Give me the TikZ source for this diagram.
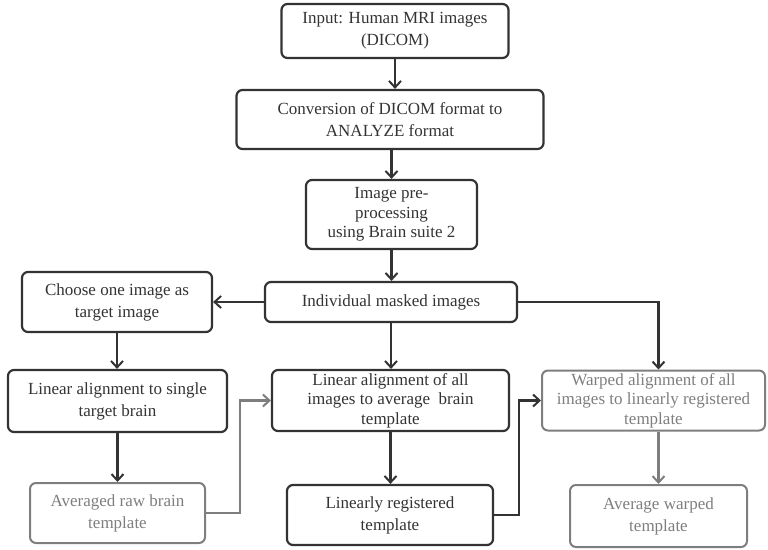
\documentclass[tikz,border=0pt]{standalone}
\usepackage{fontspec}
\setmainfont{Liberation Serif}
\usetikzlibrary{arrows.meta}
\definecolor{ink}{HTML}{333333}
\definecolor{pale}{HTML}{7E7E7E}
\begin{document}
\begin{tikzpicture}[x=1pt,y=-1pt,
  font=\fontsize{17}{22}\selectfont,
  box/.style={draw=ink, line width=2.2pt, rounded corners=6pt, text=ink,
    align=center, inner sep=0pt},
  palebox/.style={box, draw=pale, line width=2pt, text=pale},
  tight/.style={font=\fontsize{17}{19.5}\selectfont},
  link/.style={draw=ink, line width=2.2pt,
    -{Straight Barb[length=6.5pt,width=12pt,line width=2pt]}},
  palelink/.style={link, draw=pale}]
\useasboundingbox (0,0) rectangle (768,549);

% main column
\node[box, minimum width=227pt, minimum height=54pt] (b1) at (395,31)
  {Input: Human MRI images\\(DICOM)};
\node[box, minimum width=307pt, minimum height=59pt] (b2) at (390,119.5)
  {Conversion of DICOM format to\\ANALYZE format};
\node[box, tight, minimum width=171pt, minimum height=69pt] (b3) at (391.5,214.5)
  {Image pre-\\processing\\using Brain suite 2};
\node[box, minimum width=252pt, minimum height=40pt] (b4) at (391,302)
  {Individual masked images};

% left branch
\node[box, minimum width=190pt, minimum height=60pt] (b5) at (117,302)
  {Choose one image as\\target image};
\node[box, minimum width=219pt, minimum height=62pt] (b6) at (117.5,401)
  {Linear alignment to single\\target brain};
\node[palebox, minimum width=175pt, minimum height=60pt] (b7) at (117.5,513)
  {Averaged raw brain\\template};

% middle branch
\node[box, tight, minimum width=237pt, minimum height=61pt] (b8) at (390.5,400.5)
  {Linear alignment of all\\images to average~ brain\\template};
\node[box, minimum width=206pt, minimum height=60pt] (b9) at (390,515)
  {Linearly registered\\template};

% right branch
\node[palebox, tight, minimum width=223pt, minimum height=60pt] (b10) at (653.5,400.5)
  {Warped alignment of all\\images to linearly registered\\template};
\node[palebox, minimum width=177pt, minimum height=62pt] (b11) at (658.5,516)
  {Average warped\\template};

% connectors
\draw[link] (b1.south) -- (b1.south |- b2.north);
\draw[link] (b3.north |- b2.south) -- (b3.north);
\draw[link] (b3.south) -- (b3.south |- b4.north);
\draw[link] (b4.west) -- (b5.east);
\draw[link] (b4.east) -| (b11.north |- b10.north);
\draw[link] (b4.south) -- (b4.south |- b8.north);
\draw[link] (b5.south) -- (b5.south |- b6.north);
\draw[link] (b6.south) -- (b6.south |- b7.north);
\draw[palelink] (b7.east) -- ++(34,0) |- (b8.west);
\draw[link] (b8.south) -- (b8.south |- b9.north);
\draw[link] (b9.east) -- ++(25,0) |- (b10.west);
\draw[palelink] (b11.north |- b10.south) -- (b11.north);
\end{tikzpicture}
\end{document}
